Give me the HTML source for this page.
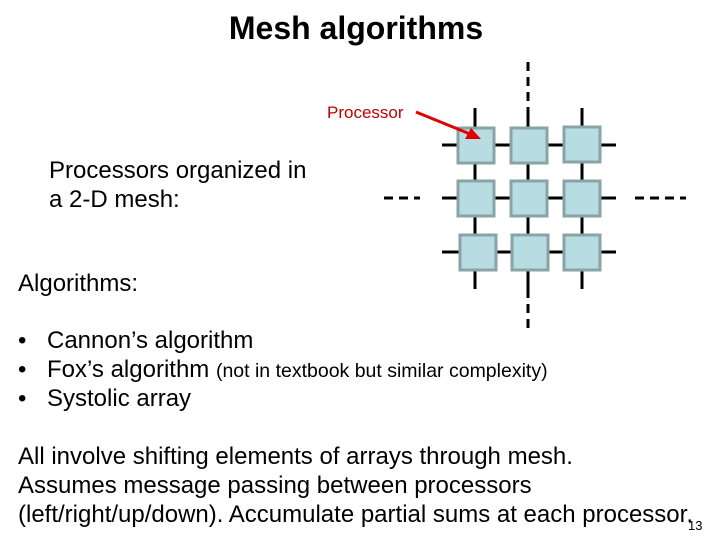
<html><body style="margin:0;width:720px;height:540px;background:#fff;position:relative;font-family:'Liberation Sans',sans-serif;overflow:hidden">
<div style="position:absolute;left:0;width:712px;top:10px;text-align:center;font-size:32px;font-weight:bold">Mesh algorithms</div>
<div style="position:absolute;left:327px;top:103px;font-size:17px;color:#c00000">Processor</div>
<div style="position:absolute;left:49px;top:156px;font-size:24px;line-height:29px">Processors organized in<br>a 2-D mesh:</div>
<div style="position:absolute;left:18px;top:270px;font-size:24px">Algorithms:</div>
<div style="position:absolute;left:18px;top:327px;font-size:24px;line-height:28.5px;white-space:nowrap">
<div><span style="display:inline-block;width:29px">•</span>Cannon’s algorithm</div>
<div><span style="display:inline-block;width:29px">•</span>Fox’s algorithm <span style="font-size:19.5px">(not in textbook but similar complexity)</span></div>
<div><span style="display:inline-block;width:29px">•</span>Systolic array</div></div>
<div style="position:absolute;left:18px;top:442px;font-size:24px;line-height:29px;white-space:nowrap">All involve shifting elements of arrays through mesh.<br>Assumes message passing between processors<br>(left/right/up/down). Accumulate partial sums at each processor.</div>
<div style="position:absolute;left:688px;top:518px;font-size:13px">13</div>
<svg width="720" height="540" style="position:absolute;left:0;top:0">
<g stroke="#000" stroke-width="3">
<line x1="528" y1="62" x2="528" y2="108" stroke-dasharray="9,6"/>
<line x1="528" y1="289" x2="528" y2="330" stroke-dasharray="9,6"/>
<line x1="384" y1="198" x2="420" y2="198" stroke-dasharray="9,6"/>
<line x1="635" y1="198" x2="686" y2="198" stroke-dasharray="9,6"/>
<line x1="442" y1="145" x2="616" y2="145"/>
<line x1="442" y1="198" x2="616" y2="198"/>
<line x1="442" y1="252" x2="616" y2="252"/>
<line x1="475" y1="108" x2="475" y2="289"/>
<line x1="528" y1="108" x2="528" y2="289"/>
<line x1="582" y1="108" x2="582" y2="289"/>
</g>
<g fill="#b7dde3" stroke="#8aa3a6" stroke-width="3">
<rect x="458" y="128" width="36" height="35"/><rect x="511" y="128" width="36" height="35"/><rect x="564" y="127" width="36" height="35"/>
<rect x="458" y="181" width="36" height="35"/><rect x="511" y="181" width="36" height="35"/><rect x="564" y="181" width="36" height="35"/>
<rect x="460" y="235" width="36" height="35"/><rect x="512" y="235" width="36" height="35"/><rect x="564" y="235" width="36" height="35"/>
</g>
<line x1="416" y1="112" x2="470" y2="134" stroke="#e00000" stroke-width="3"/>
<polygon points="481,139 465,139 471,128" fill="#e00000"/>
</svg>
</body></html>
